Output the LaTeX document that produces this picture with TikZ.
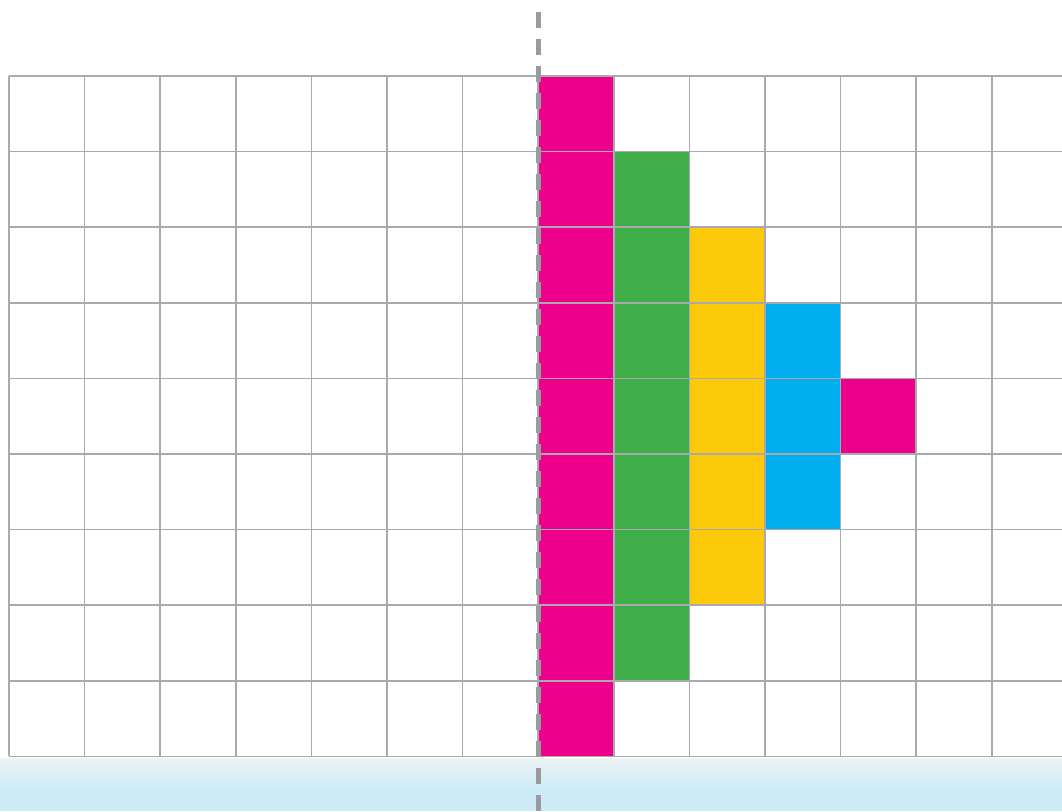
\documentclass[tikz,border=0pt]{standalone}
\definecolor{gridgray}{HTML}{A9AAAD}
\definecolor{axisgray}{HTML}{9A9B9F}
\definecolor{cellpink}{HTML}{EC008C}
\definecolor{cellgreen}{HTML}{40AE49}
\definecolor{cellyellow}{HTML}{FCC90B}
\definecolor{cellblue}{HTML}{00AEEF}
\definecolor{bandtop}{HTML}{EEF3F5}
\definecolor{bandblue}{HTML}{CCEBF7}
\tikzset{
  gridline/.style={draw=gridgray,line width=1.5pt},
  axisline/.style={draw=axisgray,line width=5pt,dash pattern=on 16pt off 11pt}
}
\begin{document}
\begin{tikzpicture}[x=1pt,y=-1pt]
\useasboundingbox (0,0) rectangle (1062,811);
\clip (0,0) rectangle (1062,811);
% coloured cells: column/row/colour
\foreach \c/\r/\col in {7/0/cellpink,7/1/cellpink,7/2/cellpink,7/3/cellpink,7/4/cellpink,7/5/cellpink,7/6/cellpink,7/7/cellpink,7/8/cellpink,
  8/1/cellgreen,8/2/cellgreen,8/3/cellgreen,8/4/cellgreen,8/5/cellgreen,8/6/cellgreen,8/7/cellgreen,
  9/2/cellyellow,9/3/cellyellow,9/4/cellyellow,9/5/cellyellow,9/6/cellyellow,
  10/3/cellblue,10/4/cellblue,10/5/cellblue,
  11/4/cellpink}
  \fill[\col] (9+75.6*\c,76+75.6*\r) rectangle ++(75.6,75.6);
% grid
\foreach \i in {0,...,14}
  \draw[gridline] (9+75.6*\i,76) -- (9+75.6*\i,756.4);
\foreach \j in {0,...,9}
  \draw[gridline] (9,76+75.6*\j) -- (1070,76+75.6*\j);
% band at the bottom
\shade[top color=bandtop,bottom color=bandblue] (0,758) rectangle (1062,790);
\fill[bandblue] (0,790) rectangle (1062,811);
% mirror line
\coordinate (top) at (538,12);
\coordinate (bottom) at (538,811);
\draw[axisline] (top) -- (bottom);
\end{tikzpicture}
\end{document}
